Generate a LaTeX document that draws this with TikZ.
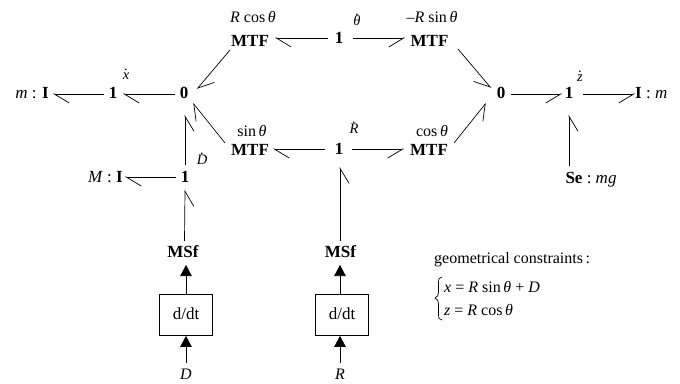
\documentclass[tikz,border=0pt]{standalone}
\usepackage{fontspec}
\setmainfont{Liberation Serif}
\usetikzlibrary{arrows.meta}
\newcommand{\vr}[1]{\textit{#1}}
\newcommand{\dotv}[2][0.62em]{\ooalign{\hfil\raise#1\hbox{.}\hfil\cr\textit{#2}\cr}}
\tikzset{
 x=1pt,y=-1pt,
 bond/.style={draw=black,line width=0.7pt,-{Straight Barb[harpoon,length=15pt,width=18pt,line width=0.7pt]}},
 bondr/.style={draw=black,line width=0.7pt,-{Straight Barb[harpoon,swap,length=15pt,width=18pt,line width=0.7pt]}},
 sig/.style={draw=black,line width=0.7pt,-{Triangle[length=11pt,width=11.5pt]}},
 el/.style={font=\fontsize{17}{19}\selectfont\bfseries,inner sep=0pt},
 lab/.style={font=\fontsize{16}{18}\selectfont,inner sep=0pt},
 small/.style={font=\fontsize{14.5}{16}\selectfont,inner sep=0pt},
 note/.style={font=\fontsize{16}{18}\selectfont,inner sep=0pt,anchor=west},
 blk/.style={draw=black,line width=0.7pt,minimum width=53.5pt,minimum height=41pt,inner sep=0pt,font=\fontsize{17}{19}\selectfont},
}
\begin{document}
\begin{tikzpicture}
\useasboundingbox (0,0) rectangle (680,383);
% elements
\node[el] (onex) at (113,93) {1};
\node[el] (zl) at (184,93) {0};
\node[el,anchor=east] (mI) at (49,93) {\mdseries\vr{m} : \bfseries I};
\node[el] (mtfa) at (250,41) {MTF};
\node[el] (oneth) at (339,38) {1};
\node[el] (mtfb) at (429.5,41) {MTF};
\node[el] (zr) at (501,93) {0};
\node[el] (onez) at (569,93) {1};
\node[el,anchor=west] (Im) at (635,93) {I\mdseries\ :\ \vr{m}};
\node[el] (se) at (591,179.5) {Se\mdseries\ :\ \vr{mg}};
\node[el] (mtfc) at (250,150) {MTF};
\node[el] (oner) at (339,149) {1};
\node[el] (mtfd) at (429,150) {MTF};
\node[el] (oned) at (185,177) {1};
\node[el,anchor=east] (MI) at (123,177) {\mdseries\vr{M} : \bfseries I};
\node[el] (msfa) at (183,252) {MSf};
\node[el] (msfb) at (340.5,252) {MSf};
\node[blk] (da) at (186,315) {\raisebox{3pt}{d/dt}};
\node[blk] (db) at (342,315) {\raisebox{3pt}{d/dt}};
\node[lab] (D) at (186,374) {\vr{D}};
\node[lab] (R) at (340,374) {\vr{R}};
% labels
\node[lab] (la) at (253,17) {\vr{R} cos\,\vr{θ}};
\node[lab] (lb) at (432,17) {\vr{–R} sin\,\vr{θ}};
\node[lab] (lc) at (252,131) {sin\,\vr{θ}};
\node[lab] (ld) at (432,131) {cos\,\vr{θ}};
\node[small] (dx) at (126,74) {\dotv{x}};
\node[small] (dD) at (202,159) {\dotv[0.72em]{D}};
\node[small] (dth) at (357,20) {\dotv[0.72em]{θ}};
\node[small] (dR) at (354,128) {\dotv[0.72em]{R}};
\node[small] (dz) at (580,76) {\dotv{z}};
\node[note] (gc) at (434,260) {geometrical constraints\,:};
\node[note] (eqx) at (444,287) {\vr{x} = \vr{R} sin\,\vr{θ} + \vr{D}};
\node[note] (eqz) at (444,310) {\vr{z} = \vr{R} cos\,\vr{θ}};
% brace
\draw[line width=0.7pt] (442,277) .. controls (439,277) and (438.5,279) .. (438.5,283)
  -- (438.5,292) .. controls (438.5,295) and (437.5,297.5) .. (435,298)
  .. controls (437.5,298.5) and (438.5,301) .. (438.5,304)
  -- (438.5,314) .. controls (438.5,318) and (439,320) .. (442,320);
% bonds
\draw[bond] ([shift={(-9,1)}]zl.center) -- ([shift={(10,1)}]onex.center);
\draw[bond] ([shift={(-9,1)}]onex.center) -- ([shift={(4,1)}]mI.east);
\draw[bond] ([shift={(-20,9)}]mtfa.center) -- ([shift={(13,-4)}]zl.center);
\draw[bond] ([shift={(-25,-7)}]mtfc.center) -- ([shift={(9,10)}]zl.center);
\draw[bondr] ([shift={(0,-12)}]oned.center) -- ([shift={(1,22)}]zl.center);
\draw[bond] ([shift={(-9,0)}]oned.center) -- ([shift={(2,0)}]MI.east);
\draw[bondr] ([shift={(1.5,-11)}]msfa.center) -- ([shift={(0,13)}]oned.center);
\draw[bond] ([shift={(-11,0)}]oneth.center) -- ([shift={(25,-3)}]mtfa.center);
\draw[bondr] ([shift={(14,0)}]oneth.center) -- ([shift={(-24.5,-3)}]mtfb.center);
\draw[bond] ([shift={(-14,0)}]oner.center) -- ([shift={(23,-1)}]mtfc.center);
\draw[bondr] ([shift={(13,0)}]oner.center) -- ([shift={(-25,-1)}]mtfd.center);
\draw[bondr] ([shift={(28.5,8)}]mtfb.center) -- ([shift={(-10,-5)}]zr.center);
\draw[bondr] ([shift={(25,-7)}]mtfd.center) -- ([shift={(-15,10)}]zr.center);
\draw[bondr] ([shift={(10,1)}]zr.center) -- ([shift={(-7,1)}]onez.center);
\draw[bondr] ([shift={(14,1)}]onez.center) -- ([shift={(0,1)}]Im.west);
\draw[bondr] ([shift={(-22,-13.5)}]se.center) -- ([shift={(0,22)}]onez.center);
\draw[bondr] ([shift={(-0.5,-11)}]msfb.center) -- ([shift={(1,18)}]oner.center);
% signals
\draw[sig] (da.north) -- ([shift={(3,13)}]msfa.center);
\draw[sig] ([xshift=-2pt]db.north) -- ([shift={(-0.5,13)}]msfb.center);
\draw[sig] ([shift={(0,-11)}]D.center) -- (da.south);
\draw[sig] ([shift={(0,-11)}]R.center) -- ([xshift=-2pt]db.south);
\end{tikzpicture}
\end{document}
